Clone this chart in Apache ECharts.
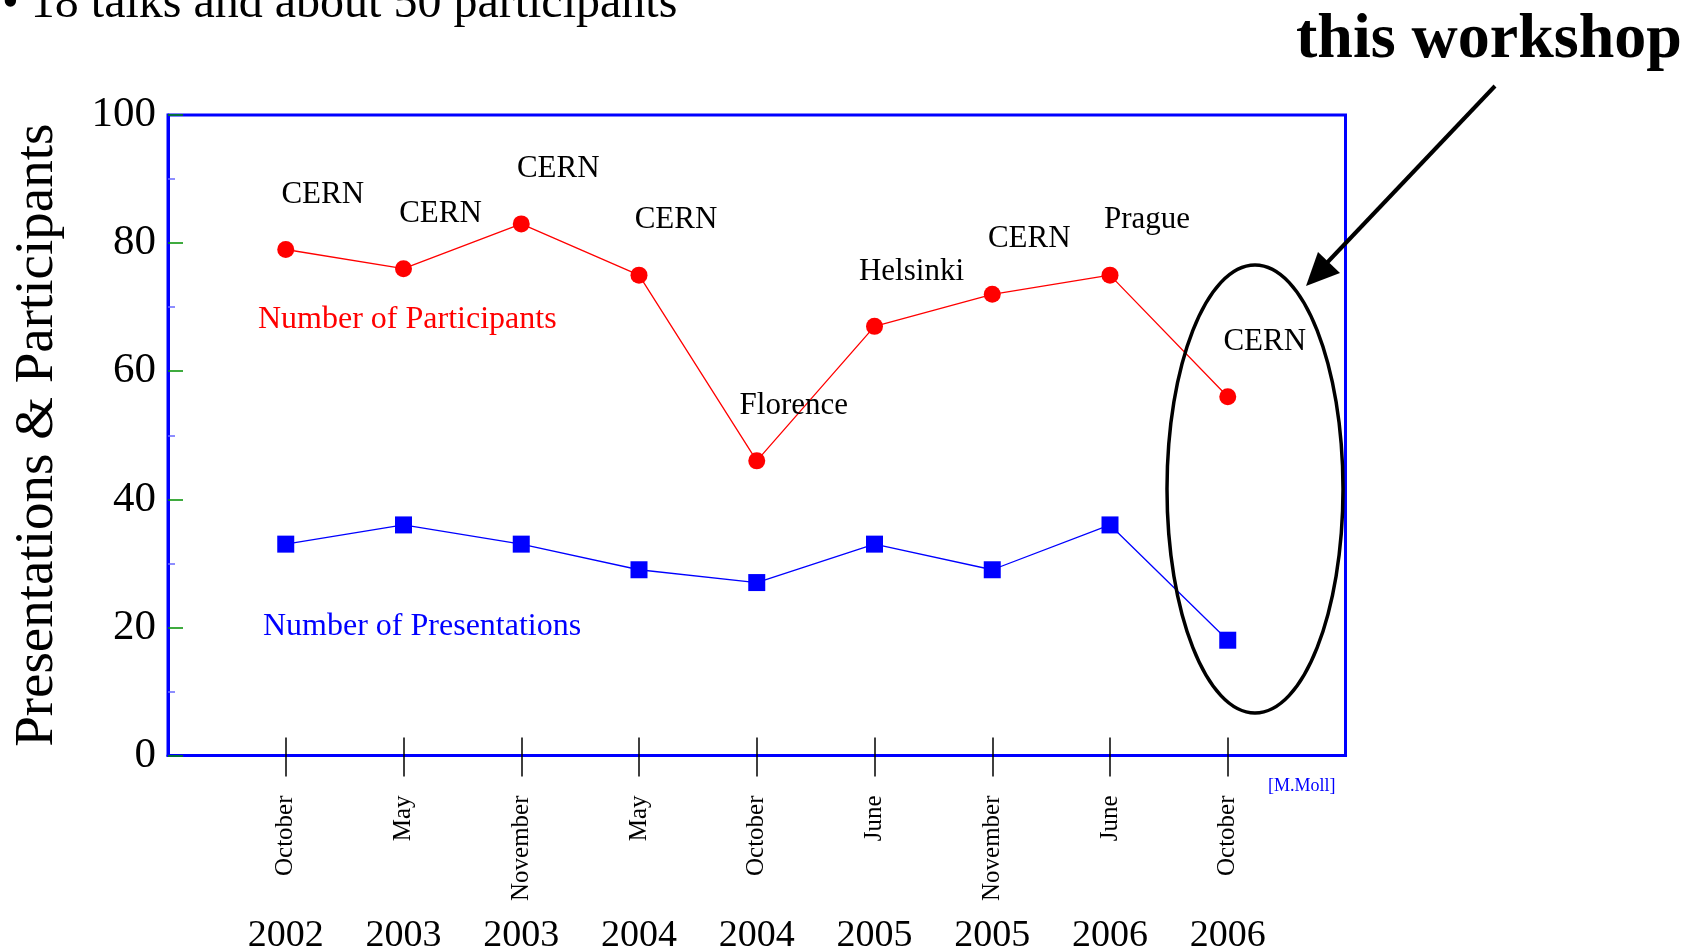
<!DOCTYPE html>
<html>
<head>
<meta charset="utf-8">
<script src="https://cdn.jsdelivr.net/npm/echarts@6/dist/echarts.min.js"></script>
<style>
html,body{margin:0;padding:0;background:#fff;}
#chart{width:1688px;height:950px;}
</style>
</head>
<body>
<div id="chart"></div>
<script>
// ---- data ----
const months = ['October','May','November','May','October','June','November','June','October'];
const years = ['2002','2003','2003','2004','2004','2005','2005','2006','2006'];
const venues = ['CERN','CERN','CERN','CERN','Florence','Helsinki','CERN','Prague','CERN'];
const participants = [79, 76, 83, 75, 46, 67, 72, 75, 56];
const presentations = [33, 36, 33, 29, 27, 33, 29, 36, 18];
const yTicks = [0, 20, 40, 60, 80, 100];

const SERIF = "'Liberation Serif','Times New Roman',serif";
const positions = months.map((m, i) => i + 1);

const chart = echarts.init(document.getElementById('chart'), null, {renderer: 'canvas'});

const option = {
  backgroundColor: '#ffffff',
  animation: false,
  grid: {
    left: 168, top: 115, right: 342.5, bottom: 194.5,
    containLabel: false, outerBoundsMode: 'none',
    show: true, borderColor: '#0000ff', borderWidth: 3, backgroundColor: 'transparent'
  },
  xAxis: [
    {
      type: 'value', min: 0, max: 10, position: 'bottom',
      axisLine: {show: true, lineStyle: {color: '#0000ff', width: 3}},
      splitLine: {show: false},
      axisTick: {show: true, customValues: positions, length: 21, inside: false,
        lineStyle: {color: '#000', width: 1.5}},
      axisLabel: {
        show: true, customValues: positions, rotate: 90, margin: 40,
        fontFamily: SERIF, fontSize: 25, color: '#000',
        formatter: v => months[Math.round(v) - 1] || ''
      }
    },
    {
      type: 'value', min: 0, max: 10, position: 'bottom',
      axisLine: {show: false},
      splitLine: {show: false},
      axisTick: {show: true, customValues: positions, length: 18, inside: true,
        lineStyle: {color: '#000', width: 1.5}},
      axisLabel: {
        show: true, customValues: positions, margin: 162,
        fontFamily: SERIF, fontSize: 38, color: '#000',
        formatter: v => years[Math.round(v) - 1] || ''
      }
    }
  ],
  yAxis: {
    type: 'value', min: 0, max: 100, interval: 20, splitNumber: 5,
    name: 'Presentations & Participants', nameLocation: 'middle', nameGap: 103,
    nameTextStyle: {fontFamily: SERIF, fontSize: 55, color: '#000'},
    axisLine: {show: true, lineStyle: {color: '#0000ff', width: 3}},
    splitLine: {show: false},
    axisTick: {show: true, inside: true, length: 15, lineStyle: {color: '#009000', width: 1.5}},
    minorTick: {show: true, splitNumber: 2, length: 7, lineStyle: {color: '#6868ff', width: 1.5}},
    axisLabel: {
      fontFamily: SERIF, fontSize: 43, color: '#000', margin: 12,
      customValues: yTicks
    }
  },
  series: [
    {
      name: 'Number of Participants', type: 'line', xAxisIndex: 0,
      data: participants.map((v, i) => [positions[i], v]),
      symbol: 'circle', symbolSize: 17,
      lineStyle: {color: '#ff0000', width: 1.3},
      itemStyle: {color: '#ff0000'},
      label: {
        show: true, position: 'inside', offset: [37, -55],
        fontFamily: SERIF, fontSize: 31, color: '#000',
        formatter: p => venues[p.dataIndex]
      },
      z: 3
    },
    {
      name: 'Number of Presentations', type: 'line', xAxisIndex: 0,
      data: presentations.map((v, i) => [positions[i], v]),
      symbol: 'rect', symbolSize: 17,
      lineStyle: {color: '#0000ff', width: 1.3},
      itemStyle: {color: '#0000ff'},
      z: 3
    }
  ],
  graphic: [
    {type: 'text', left: 2, top: -20, style: {text: '\u2022 18 talks and about 50 participants',
      fontFamily: SERIF, fontSize: 48, fill: '#000'}},
    {type: 'text', left: 1296, top: 8, style: {text: 'this workshop',
      fontFamily: SERIF, fontSize: 64, fontWeight: 'bold', fill: '#000'}},
    {type: 'text', left: 258, top: 304, style: {text: 'Number of Participants',
      fontFamily: SERIF, fontSize: 32, fill: '#ff0000'}},
    {type: 'text', left: 263, top: 611, style: {text: 'Number of Presentations',
      fontFamily: SERIF, fontSize: 32, fill: '#0000ff'}},
    {type: 'text', left: 1268, top: 777, style: {text: '[M.Moll]',
      fontFamily: SERIF, fontSize: 18, fill: '#0000ff'}},
    {type: 'ellipse', shape: {cx: 1255, cy: 489, rx: 88, ry: 224},
      style: {fill: 'none', stroke: '#000', lineWidth: 3.5}, z: 10},
    {type: 'line', shape: {x1: 1495, y1: 86, x2: 1322, y2: 268},
      style: {stroke: '#000', lineWidth: 4}, z: 10},
    {type: 'polygon', shape: {points: [[1306, 286], [1318, 252], [1340, 273]]},
      style: {fill: '#000'}, z: 10}
  ]
};
chart.setOption(option);
</script>
</body>
</html>
